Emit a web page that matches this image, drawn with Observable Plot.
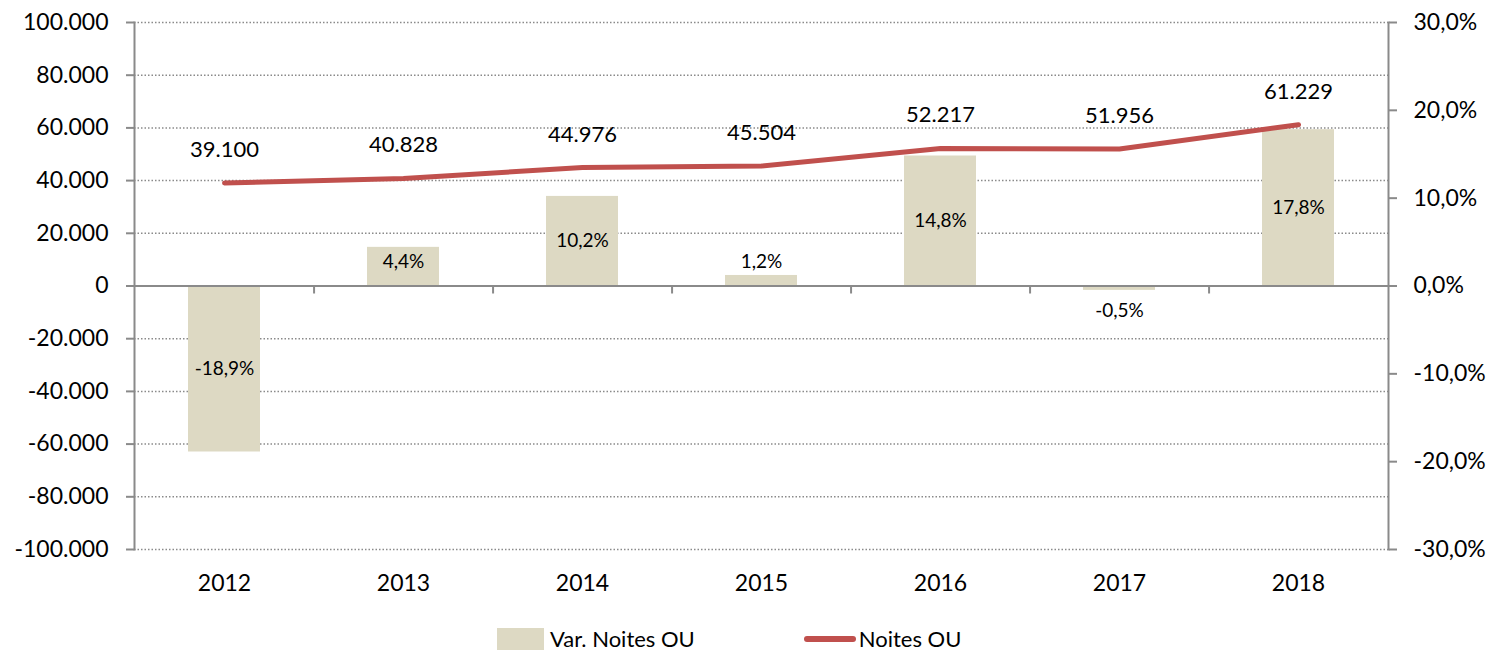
<!DOCTYPE html>
<html><head><meta charset="utf-8">
<script src="https://cdn.jsdelivr.net/npm/d3@7"></script>
<script src="https://cdn.jsdelivr.net/npm/@observablehq/plot@0.6"></script>
<style>
body{margin:0;background:#fff;font-family:Lato,sans-serif;}
#wrap{position:relative;width:1496px;height:655px;overflow:hidden;background:#fff;}
#legend{position:absolute;top:627px;left:497px;display:flex;align-items:center;font-size:22px;line-height:24px;color:#000;white-space:nowrap;}
.sw-bar{display:inline-block;width:47px;height:22px;background:#ddd9c3;margin-right:6px;}
.sw-line{display:inline-block;width:52px;height:6px;border-radius:3px;background:#c0504d;margin-left:109px;margin-right:3px;}
</style></head><body>
<div id="wrap"><div id="chart"></div>
<div id="legend"><span class="sw-bar"></span><span id="l1"></span><span class="sw-line"></span><span id="l2"></span></div></div>
<script>
const years = ["2012","2013","2014","2015","2016","2017","2018"];
const noites = [39100, 40828, 44976, 45504, 52217, 51956, 61229];
const varPct = [-18.9, 4.4, 10.2, 1.2, 14.8, -0.5, 17.8];
const leftTicks = [-100000,-80000,-60000,-40000,-20000,0,20000,40000,60000,80000,100000];
const rightTicks = [-30,-20,-10,0,10,20,30];
const seriesNames = ["Var. Noites OU","Noites OU"];

const K = 100000/30; // percent -> left-axis units
const locale = d3.formatLocale({decimal:",", thousands:".", grouping:[3], currency:["",""], minus:"-"});
const fmtInt = locale.format(",d");
const fmtPct = locale.format(",.1f");
const rows = years.map((y,i)=>({year:y, noites:noites[i], pct:varPct[i]}));

const W=1496, H=615, mL=134, mR=108, mT=22, mB=66;
const step = (W-mL-mR)/years.length;
const pxPerUnit = (H-mT-mB)/200000;
const grey = "#8a8a8a";

const chart = Plot.plot({
  width:W, height:H, marginLeft:mL, marginRight:mR, marginTop:mT, marginBottom:mB,
  style:{fontFamily:"Lato, sans-serif", fontSize:"23px", color:"#000", background:"#fff"},
  x:{domain:years, paddingInner:0.6, paddingOuter:0.3, label:null},
  y:{domain:[-100000,100000], label:null},
  marks:[
    Plot.ruleY(leftTicks.filter(d=>d!==0), {stroke:grey, strokeWidth:1.5, strokeDasharray:"1.5,2"}),
    Plot.barY(rows, {x:"year", y:d=>d.pct*K, fill:"#ddd9c3"}),
    Plot.ruleY([0], {stroke:grey, strokeWidth:2}),
    Plot.ruleX(years.slice(0,-1), {x:d=>d, dx:step/2, y1:0, y2:-8/pxPerUnit, stroke:grey, strokeWidth:2}),
    Plot.frame({anchor:"left", stroke:grey, strokeWidth:2}),
    Plot.frame({anchor:"right", stroke:grey, strokeWidth:2}),
    Plot.axisY(leftTicks, {anchor:"left", tickFormat:fmtInt, tickSize:8, tickPadding:18, stroke:grey, fill:"#000", strokeWidth:2, fontSize:23}),
    Plot.axisY(rightTicks.map(p=>p*K), {anchor:"right", tickFormat:d=>fmtPct(Math.round(d/K*10)/10)+"%", tickSize:8, tickPadding:17, stroke:grey, fill:"#000", strokeWidth:2, fontSize:23}),
    Plot.axisX({anchor:"bottom", tickSize:0, tickPadding:25, fill:"#000", fontSize:23}),
    Plot.line(rows, {x:"year", y:"noites", stroke:"#c0504d", strokeWidth:5, strokeLinecap:"round", strokeLinejoin:"round"}),
    Plot.text(rows, {x:"year", y:"noites", text:d=>fmtInt(d.noites), dy:-33, fontSize:22, fill:"#000"}),
    Plot.text(rows, {x:"year", y:d=>Math.sign(d.pct)*Math.max(Math.abs(d.pct)/2, 2.8)*K, text:d=>fmtPct(d.pct)+"%", fontSize:19, fill:"#000"})
  ]
});
document.getElementById("chart").appendChild(chart);
document.getElementById("l1").textContent = seriesNames[0];
document.getElementById("l2").textContent = seriesNames[1];
</script>
</body></html>
